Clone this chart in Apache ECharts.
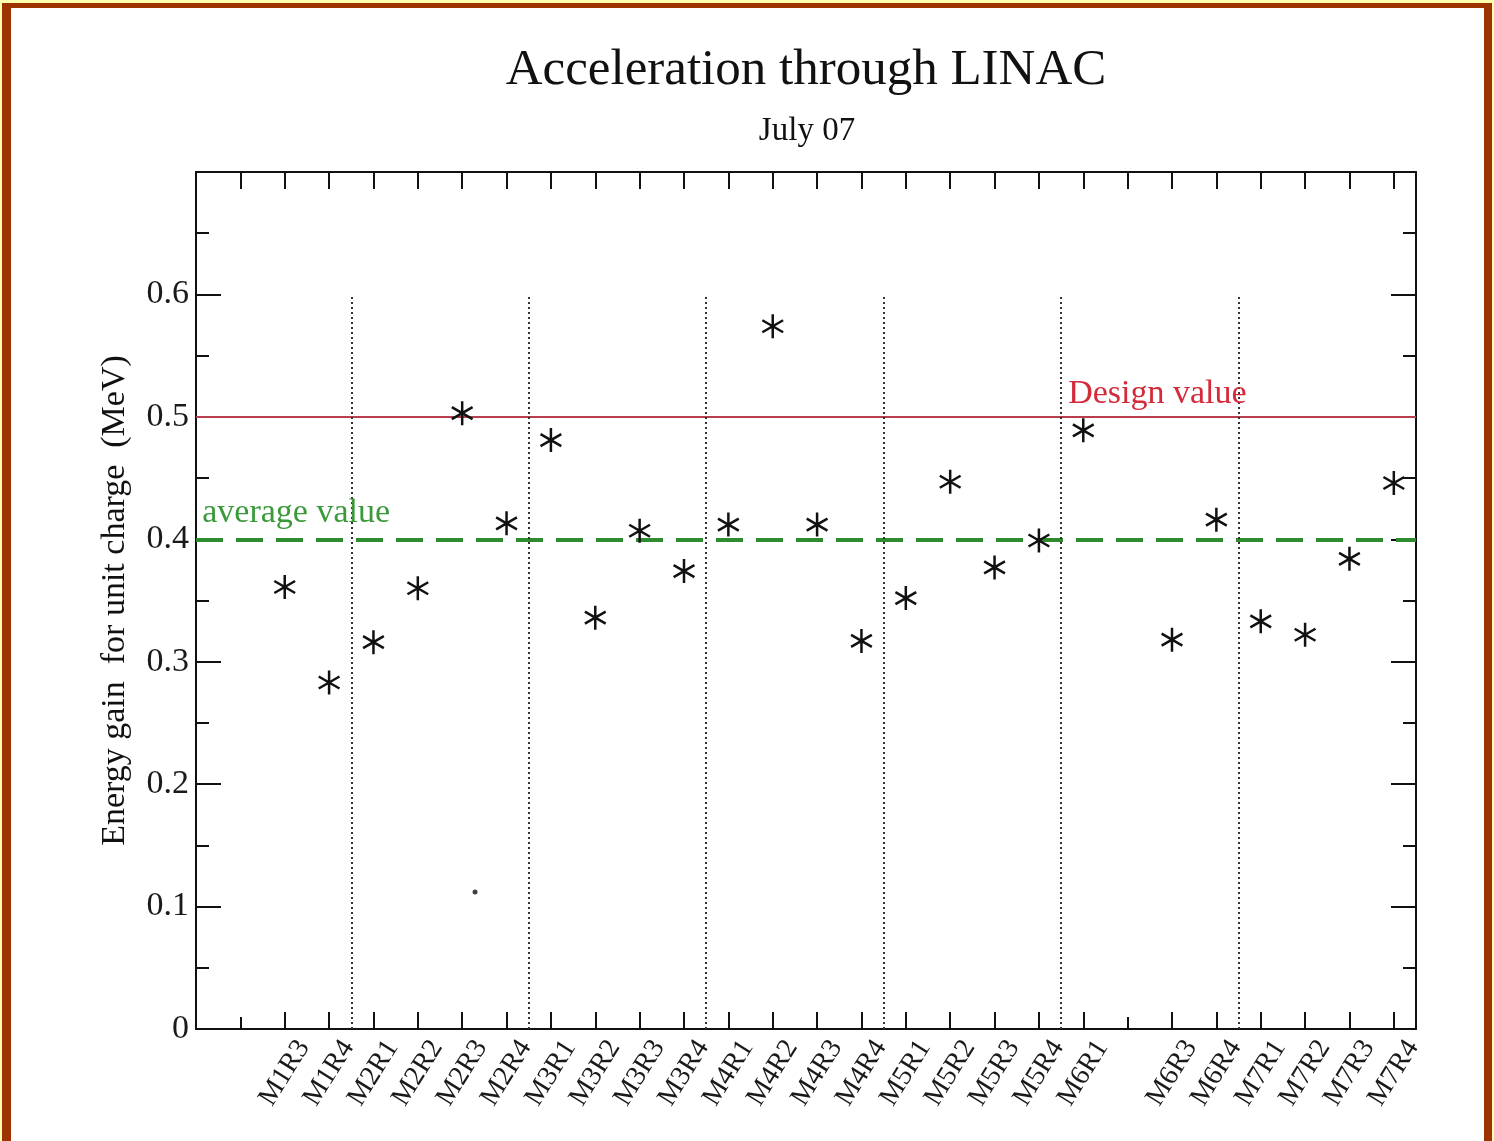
<!DOCTYPE html>
<html>
<head>
<meta charset="utf-8">
<title>Acceleration through LINAC</title>
<script src="https://cdn.jsdelivr.net/npm/echarts@6/dist/echarts.min.js"></script>
<style>
  html, body { margin: 0; padding: 0; width: 1494px; height: 1141px; overflow: hidden; background: #ffffb0; }
  #frame { position: absolute; left: 2px; top: 3px; width: 1473px; height: 1160px;
           border-style: solid; border-color: #9c3300; border-width: 5px 8px 0 9px; background: #ffffff; }
  #chart { position: absolute; left: 0; top: 0; width: 1494px; height: 1141px; }
</style>
</head>
<body>
<div id="frame"></div>
<div id="chart"></div>
<script>
// Cavity names along the linac ('' marks an empty slot with no measurement)
const cavities = ['M1R3', 'M1R4', 'M2R1', 'M2R2', 'M2R3', 'M2R4', 'M3R1', 'M3R2', 'M3R3', 'M3R4',
                  'M4R1', 'M4R2', 'M4R3', 'M4R4', 'M5R1', 'M5R2', 'M5R3', 'M5R4', 'M6R1', '',
                  'M6R3', 'M6R4', 'M7R1', 'M7R2', 'M7R3', 'M7R4'];
// Energy gain for unit charge (MeV), one value per cavity
const energyGain = [0.361, 0.283, 0.316, 0.360, 0.503, 0.413, 0.481, 0.336, 0.407, 0.374,
                    0.412, 0.574, 0.412, 0.317, 0.352, 0.447, 0.377, 0.399, 0.489, null,
                    0.318, 0.416, 0.333, 0.322, 0.384, 0.446];
// Isolated reading [slot, MeV]
const strayPoint = [[6.29, 0.112]];
// Reference levels (MeV)
const designValue = 0.5;
const averageValue = 0.401;
// Module boundaries on the slot axis
const moduleBoundaries = [3.5, 7.5, 11.5, 15.5, 19.5, 23.5];
// Y tick labels
const yTicks = [0, 0.1, 0.2, 0.3, 0.4, 0.5, 0.6];

const slotOffset = 2;      // first cavity sits on slot 2
const slotMax = 27.5;
const yMax = 0.7;
const boundaryTop = 0.6;

const serif = 'Liberation Serif';
const ink = '#111111';

const labelSlots = [];
const shortTickSlots = [1];
cavities.forEach((name, i) => {
  if (name) labelSlots.push(i + slotOffset); else shortTickSlots.push(i + slotOffset);
});
const allSlots = [];
for (let s = 1; s <= Math.floor(slotMax); s++) allSlots.push(s);

const points = [];
energyGain.forEach((v, i) => { if (v != null) points.push([i + slotOffset, v]); });

// six-armed asterisk marker
const asterisk = 'path://M10,0L10,20M1.34,5L18.66,15M1.34,15L18.66,5';

const gridRect = { left: 196, right: 78, top: 172, bottom: 112 };

const chart = echarts.init(document.getElementById('chart'), null, { renderer: 'canvas' });

chart.setOption({
  animation: false,
  backgroundColor: 'transparent',
  title: [
    { text: 'Acceleration through LINAC', left: 806, top: 45, textAlign: 'center', padding: 0,
      textStyle: { fontFamily: serif, fontSize: 51, fontWeight: 'normal', color: ink } },
    { text: 'July 07', left: 807, top: 115, textAlign: 'center', padding: 0,
      textStyle: { fontFamily: serif, fontSize: 33, fontWeight: 'normal', color: ink } }
  ],
  grid: [
    Object.assign({ containLabel: false }, gridRect),
    Object.assign({ containLabel: false }, gridRect)
  ],
  xAxis: [
    { // bottom: cavity labels and long ticks
      type: 'value', gridIndex: 0, position: 'bottom', min: 0, max: slotMax,
      axisLine: { show: true, onZero: false, lineStyle: { color: ink, width: 2 } },
      axisTick: { show: true, inside: true, length: 17, customValues: labelSlots,
                  lineStyle: { color: ink, width: 2 } },
      axisLabel: {
        show: true, customValues: labelSlots, rotate: 58, align: 'center', verticalAlign: 'middle',
        margin: 44, fontFamily: serif, fontSize: 28, color: '#1a1a1a',
        formatter: v => cavities[Math.round(v) - slotOffset] || ''
      },
      splitLine: { show: false }
    },
    { // top frame with ticks on every slot
      type: 'value', gridIndex: 0, position: 'top', min: 0, max: slotMax,
      axisLine: { show: true, onZero: false, lineStyle: { color: ink, width: 2 } },
      axisTick: { show: true, inside: true, length: 17, customValues: allSlots,
                  lineStyle: { color: ink, width: 2 } },
      axisLabel: { show: false },
      splitLine: { show: false }
    },
    { // short ticks on unlabelled slots
      type: 'value', gridIndex: 1, position: 'bottom', min: 0, max: slotMax,
      axisLine: { show: false },
      axisTick: { show: true, inside: true, length: 12, customValues: shortTickSlots,
                  lineStyle: { color: ink, width: 2 } },
      axisLabel: { show: false },
      splitLine: { show: false }
    }
  ],
  yAxis: [
    {
      type: 'value', gridIndex: 0, position: 'left', min: 0, max: yMax, interval: 0.1,
      name: 'Energy gain  for unit charge  (MeV)', nameLocation: 'middle', nameRotate: 90, nameGap: 64,
      nameTextStyle: { fontFamily: serif, fontSize: 34, color: ink },
      axisLine: { show: true, onZero: false, lineStyle: { color: ink, width: 2 } },
      axisTick: { show: true, inside: true, length: 25, lineStyle: { color: ink, width: 2 } },
      minorTick: { show: true, splitNumber: 2, length: 13, lineStyle: { color: ink, width: 2 } },
      axisLabel: { show: true, customValues: yTicks, margin: 7, fontFamily: serif, fontSize: 34,
                   color: '#1a1a1a', formatter: v => String(Math.round(v * 10) / 10) },
      splitLine: { show: false }
    },
    {
      type: 'value', gridIndex: 0, position: 'right', min: 0, max: yMax, interval: 0.1,
      axisLine: { show: true, onZero: false, lineStyle: { color: ink, width: 2 } },
      axisTick: { show: true, inside: true, length: 25, lineStyle: { color: ink, width: 2 } },
      minorTick: { show: true, splitNumber: 2, length: 13, lineStyle: { color: ink, width: 2 } },
      axisLabel: { show: false },
      splitLine: { show: false }
    },
    { type: 'value', gridIndex: 1, min: 0, max: yMax, show: false }
  ],
  series: [
    {
      name: 'Reference levels', type: 'line', xAxisIndex: 0, yAxisIndex: 0, data: [],
      markLine: {
        silent: true, symbol: 'none', animation: false, label: { show: false },
        data: [
          { yAxis: designValue, lineStyle: { color: '#b8404e', width: 2, type: 'solid' } },
          { yAxis: averageValue, lineStyle: { color: '#2e8b2e', width: 4, type: [27, 13] } }
        ].concat(moduleBoundaries.map(x => [
          { coord: [x, 0], lineStyle: { color: '#333333', width: 2, type: [2, 3] } },
          { coord: [x, boundaryTop] }
        ]))
      },
      markPoint: {
        silent: true, symbol: 'circle', symbolSize: 0, animation: false,
        data: [
          { coord: [19.66, designValue],
            label: { show: true, formatter: 'Design value', position: [0, 0], align: 'left',
                     verticalAlign: 'bottom', offset: [0, -6], fontFamily: serif, fontSize: 34, color: '#d42a3a' } },
          { coord: [0.14, averageValue],
            label: { show: true, formatter: 'average value', position: [0, 0], align: 'left',
                     verticalAlign: 'bottom', offset: [0, -8], fontFamily: serif, fontSize: 34, color: '#3a9a3a' } }
        ]
      }
    },
    {
      name: 'Energy gain', type: 'scatter', xAxisIndex: 0, yAxisIndex: 0,
      symbol: asterisk, symbolSize: 24, symbolKeepAspect: true,
      itemStyle: { color: ink, borderColor: ink, borderWidth: 2.5, opacity: 1 },
      data: points, z: 5
    },
    {
      name: 'Stray reading', type: 'scatter', xAxisIndex: 0, yAxisIndex: 0,
      symbol: 'circle', symbolSize: 5,
      itemStyle: { color: ink },
      data: strayPoint, z: 5
    }
  ]
});
</script>
</body>
</html>
